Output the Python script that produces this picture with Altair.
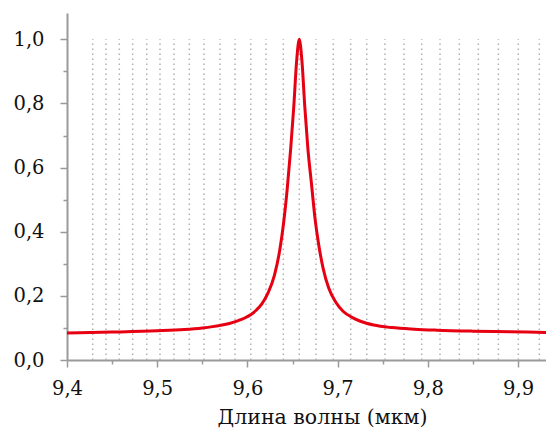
import altair as alt
import pandas as pd

# Spectrum
wavelength = [9.40, 9.45, 9.50, 9.53, 9.55, 9.57, 9.58, 9.59, 9.597, 9.604, 9.61,
              9.616, 9.623, 9.630, 9.636, 9.640, 9.644, 9.648, 9.6514, 9.6545, 9.6575,
              9.6605, 9.6636, 9.667, 9.671, 9.675, 9.679, 9.684, 9.690, 9.698,
              9.706, 9.716, 9.726, 9.74, 9.76, 9.785, 9.81, 9.85, 9.89, 9.931]
transmission = [0.084, 0.087, 0.091, 0.095, 0.100, 0.108, 0.114, 0.123, 0.131, 0.142, 0.156,
                0.175, 0.210, 0.265, 0.345, 0.425, 0.53, 0.66, 0.79, 0.93, 1.0,
                0.93, 0.79, 0.66, 0.55, 0.44, 0.36, 0.285, 0.225, 0.18,
                0.152, 0.133, 0.120, 0.109, 0.101, 0.096, 0.093, 0.090, 0.088, 0.086]

# Dotted vertical lines (line positions)
grid_wl = [9.4285, 9.4432, 9.458, 9.4728, 9.4884, 9.5031, 9.5186, 9.5356, 9.5519,
           9.5696, 9.5863, 9.6037, 9.6206, 9.6398, 9.6575, 9.6761, 9.6952, 9.7145,
           9.7323, 9.7525, 9.7736, 9.7932, 9.8135, 9.8349, 9.8560, 9.8782, 9.9003,
           9.9236]

x_major = [9.4, 9.5, 9.6, 9.7, 9.8, 9.9]
x_minor = [9.45, 9.55, 9.65, 9.75, 9.85]
y_major = [0.0, 0.2, 0.4, 0.6, 0.8, 1.0]
y_minor = [0.1, 0.3, 0.5, 0.7, 0.9]

x_title = "Длина волны (мкм)"

df = pd.DataFrame({"wl": wavelength, "t": transmission})
gdf = pd.DataFrame({"g": grid_wl, "y0": [0.0] * len(grid_wl), "y1": [1.0] * len(grid_wl)})

FONT = "DejaVu Serif"
LAB = "replace(format(datum.value, '.1f'), '.', ',')"
AXC = "#9a9a9a"
TXT = "#111111"

xscale = alt.Scale(domain=[9.4, 9.931], nice=False, zero=False)
yscale = alt.Scale(domain=[0, 1.082], nice=False)

grid = alt.Chart(gdf).mark_rule(color="#b0b0b0", strokeWidth=1.5, strokeDash=[1.5, 3.5]).encode(
    x=alt.X("g:Q", scale=xscale,
            axis=alt.Axis(values=x_minor, orient="bottom", labels=False, domain=False,
                          grid=False, ticks=True, tickSize=4, tickColor=AXC, tickWidth=1.5,
                          title=None)),
    y=alt.Y("y0:Q", scale=yscale,
            axis=alt.Axis(values=y_minor, orient="left", labels=False, domain=False,
                          grid=False, ticks=True, tickSize=4, tickColor=AXC, tickWidth=1.5,
                          title=None)),
    y2="y1:Q",
)

line = alt.Chart(df).mark_line(color="#e60012", strokeWidth=3, interpolate="monotone").encode(
    x=alt.X("wl:Q", scale=xscale,
            axis=alt.Axis(values=x_major, orient="bottom", labelExpr=LAB, grid=False,
                          domainColor=AXC, domainWidth=2, tickColor=AXC, tickWidth=1.5,
                          tickSize=7, labelFont=FONT, labelFontSize=19.5, labelColor=TXT,
                          labelPadding=12, labelFlush=False,
                          title=x_title, titleFont=FONT, titleFontSize=20.5,
                          titleFontWeight="normal", titleColor=TXT,
                          titleX=255, titleY=63, titleAlign="center",
                          titleBaseline="alphabetic", titleAnchor="start")),
    y=alt.Y("t:Q", scale=yscale,
            axis=alt.Axis(values=y_major, orient="left", labelExpr=LAB, grid=False,
                          domainColor=AXC, domainWidth=2, tickColor=AXC, tickWidth=1.5,
                          tickSize=7, labelFont=FONT, labelFontSize=19.5, labelColor=TXT,
                          labelPadding=16, labelFlush=False, title=None)),
)

chart = alt.layer(grid, line).resolve_axis(x="independent", y="independent").properties(
    width=479, height=347,
    padding={"left": 59, "top": 5, "right": 0, "bottom": 69},
    autosize=alt.AutoSizeParams(type="none"),
).configure_view(stroke=None)

chart.save("out.html", embed_options={"renderer": "svg", "actions": False})
